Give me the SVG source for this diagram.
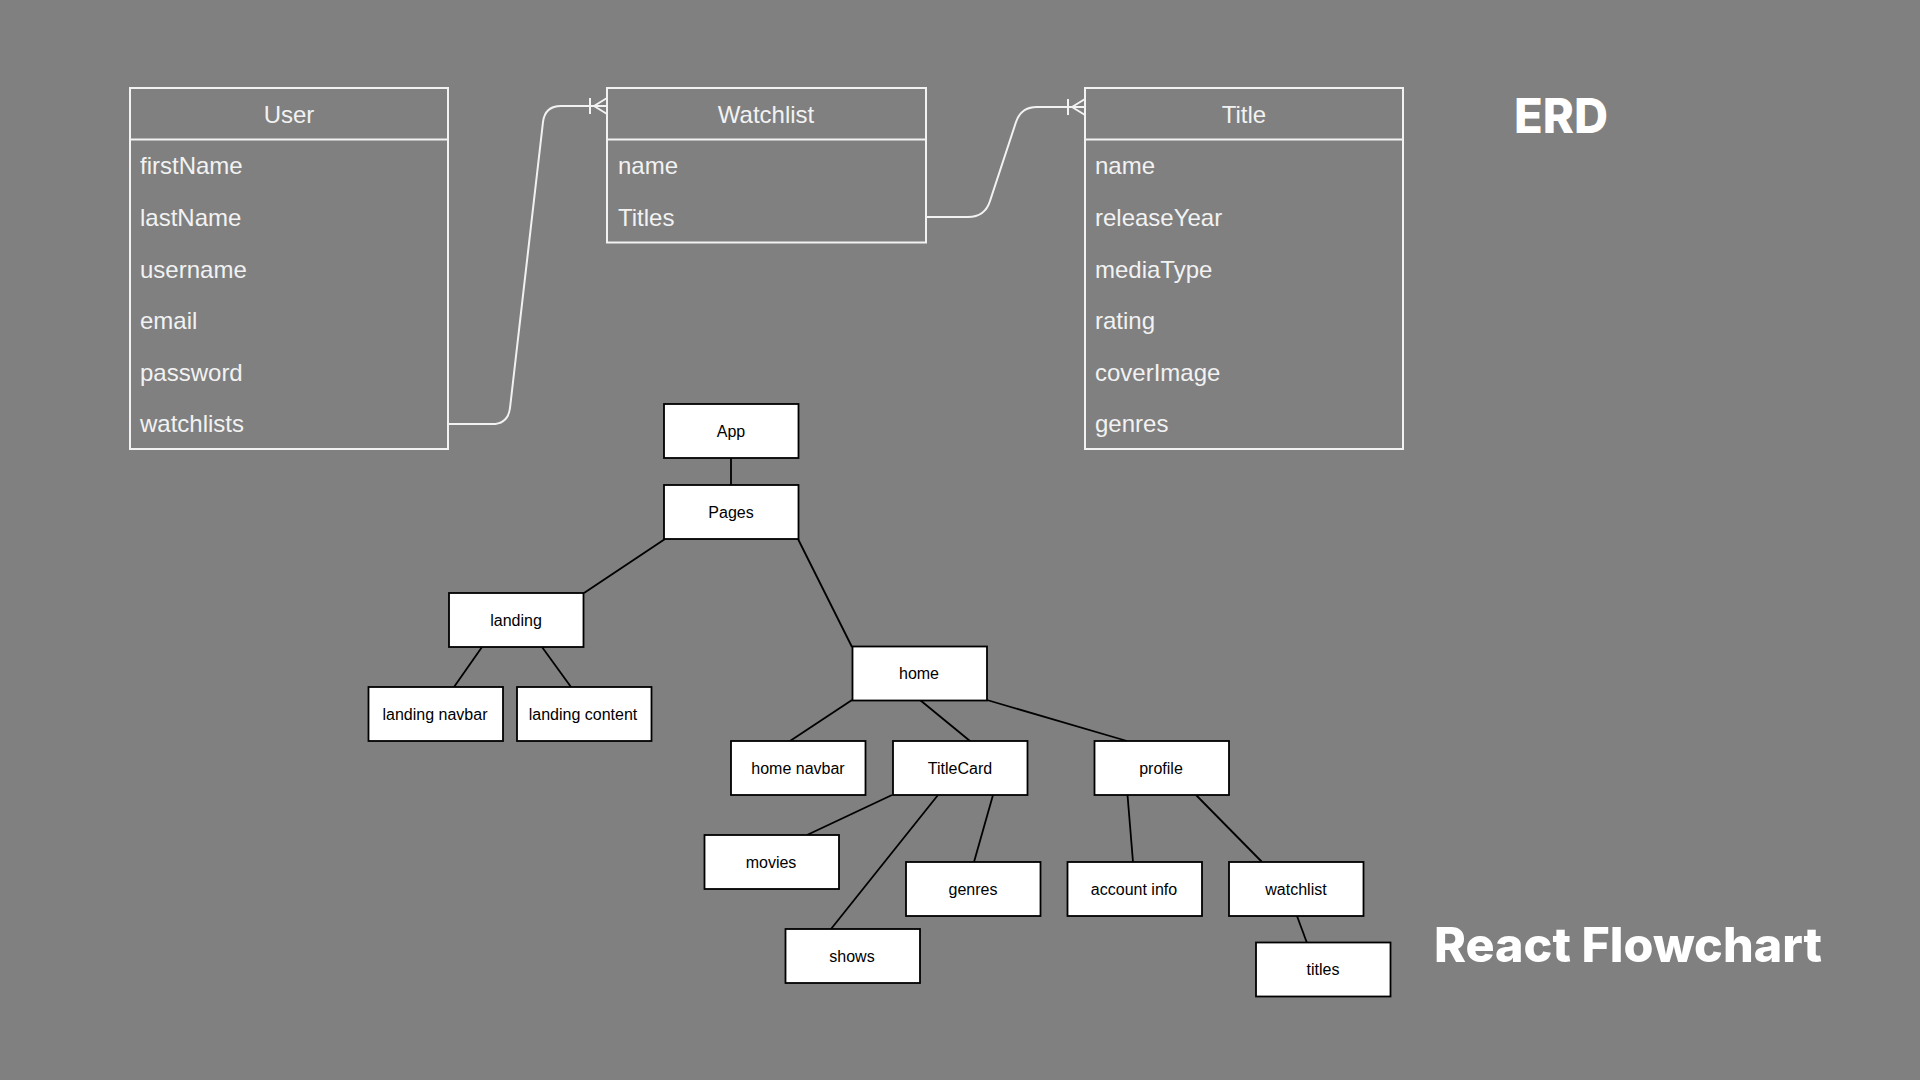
<svg xmlns="http://www.w3.org/2000/svg" width="1920" height="1080" viewBox="0 0 1920 1080">
<style>
.erbox{fill:none;stroke:#f2f2f2;stroke-width:2}
.ert{font-family:"Liberation Sans",Arial,sans-serif;font-size:24px;fill:#f2f2f2;dominant-baseline:central}
.erh{text-anchor:middle}
.erc{fill:none;stroke:#f2f2f2;stroke-width:2}
.fb{fill:#ffffff;stroke:#000000;stroke-width:1.8}
.ft{font-family:"Liberation Sans",Arial,sans-serif;font-size:16px;fill:#000000;text-anchor:middle;dominant-baseline:central}
.fc{fill:none;stroke:#000000;stroke-width:1.8}
.lbl{font-family:Inter,"Liberation Sans",sans-serif;font-weight:800;font-size:48px;fill:#ffffff}
</style>
<rect x="0" y="0" width="1920" height="1080" fill="#808080"/>

<g id="connectors-erd">
<path class="erc" d="M448,424 L492,424 Q508,424 510,408 L543,122 Q545,106 561,106 L607,106"/>
<path class="erc" d="M590,98 L590,114 M594,106 L607,98 M594,106 L607,114"/>
<path class="erc" d="M926,217 L968,217 Q985,217 990,201 L1016,122 Q1021,107 1037,107 L1085,107"/>
<path class="erc" d="M1068,99 L1068,115 M1072,107 L1085,99 M1072,107 L1085,115"/>
</g>

<g id="user">
<rect class="erbox" x="130" y="88" width="318" height="361"/>
<line class="erbox" x1="130" y1="139.5" x2="448" y2="139.5"/>
<text class="ert erh" x="289" y="114">User</text>
<text class="ert" x="140" y="165.5">firstName</text>
<text class="ert" x="140" y="217">lastName</text>
<text class="ert" x="140" y="269">username</text>
<text class="ert" x="140" y="320.5">email</text>
<text class="ert" x="140" y="372">password</text>
<text class="ert" x="140" y="423.5">watchlists</text>
</g>

<g id="watchlist-entity">
<rect class="erbox" x="607" y="88" width="319" height="154.5"/>
<line class="erbox" x1="607" y1="139.5" x2="926" y2="139.5"/>
<text class="ert erh" x="766" y="114">Watchlist</text>
<text class="ert" x="618" y="165.5">name</text>
<text class="ert" x="618" y="217">Titles</text>
</g>

<g id="title-entity">
<rect class="erbox" x="1085" y="88" width="318" height="361"/>
<line class="erbox" x1="1085" y1="139.5" x2="1403" y2="139.5"/>
<text class="ert erh" x="1244" y="114">Title</text>
<text class="ert" x="1095" y="165.5">name</text>
<text class="ert" x="1095" y="217">releaseYear</text>
<text class="ert" x="1095" y="269">mediaType</text>
<text class="ert" x="1095" y="320.5">rating</text>
<text class="ert" x="1095" y="372">coverImage</text>
<text class="ert" x="1095" y="423.5">genres</text>
</g>

<g id="connectors-flow">
<line class="fc" x1="731" y1="458" x2="731" y2="485"/>
<line class="fc" x1="665" y1="539" x2="584" y2="593"/>
<line class="fc" x1="798" y1="539" x2="852" y2="647"/>
<line class="fc" x1="482" y1="647" x2="454" y2="687"/>
<line class="fc" x1="542" y1="647" x2="571" y2="687"/>
<line class="fc" x1="852" y1="700" x2="790" y2="741"/>
<line class="fc" x1="920" y1="700" x2="970" y2="741"/>
<line class="fc" x1="987" y1="700" x2="1127" y2="741"/>
<line class="fc" x1="892" y1="795" x2="807" y2="835"/>
<line class="fc" x1="938" y1="795" x2="831" y2="929"/>
<line class="fc" x1="993" y1="795" x2="974" y2="862"/>
<line class="fc" x1="1127.5" y1="795" x2="1133" y2="862"/>
<line class="fc" x1="1196" y1="795" x2="1262" y2="862"/>
<line class="fc" x1="1297" y1="916" x2="1307" y2="943"/>
</g>

<g id="app"><rect class="fb" x="664" y="404" width="134.5" height="54"/><text class="ft" x="731" y="431">App</text></g>
<g id="pages"><rect class="fb" x="664" y="485" width="134.5" height="54"/><text class="ft" x="731" y="512">Pages</text></g>
<g id="landing"><rect class="fb" x="449" y="593" width="134.5" height="54"/><text class="ft" x="516" y="620">landing</text></g>
<g id="landing-navbar"><rect class="fb" x="368.5" y="687" width="134.5" height="54"/><text class="ft" x="435" y="714">landing navbar</text></g>
<g id="landing-content"><rect class="fb" x="517" y="687" width="134.5" height="54"/><text class="ft" x="583" y="714">landing content</text></g>
<g id="home"><rect class="fb" x="852.5" y="646.5" width="134.5" height="54"/><text class="ft" x="919" y="673.5">home</text></g>
<g id="home-navbar"><rect class="fb" x="731" y="741" width="134.5" height="54"/><text class="ft" x="798" y="768">home navbar</text></g>
<g id="titlecard"><rect class="fb" x="893" y="741" width="134.5" height="54"/><text class="ft" x="960" y="768">TitleCard</text></g>
<g id="profile"><rect class="fb" x="1094.5" y="741" width="134.5" height="54"/><text class="ft" x="1161" y="768">profile</text></g>
<g id="movies"><rect class="fb" x="704.5" y="835" width="134.5" height="54"/><text class="ft" x="771" y="862">movies</text></g>
<g id="genres"><rect class="fb" x="906" y="862" width="134.5" height="54"/><text class="ft" x="973" y="889">genres</text></g>
<g id="shows"><rect class="fb" x="785.5" y="929" width="134.5" height="54"/><text class="ft" x="852" y="956">shows</text></g>
<g id="account-info"><rect class="fb" x="1067.5" y="862" width="134.5" height="54"/><text class="ft" x="1134" y="889">account info</text></g>
<g id="watchlist"><rect class="fb" x="1229" y="862" width="134.5" height="54"/><text class="ft" x="1296" y="889">watchlist</text></g>
<g id="titles"><rect class="fb" x="1256" y="942.5" width="134.5" height="54"/><text class="ft" x="1323" y="969.5">titles</text></g>

<g id="labels">
<text class="lbl" x="1514" y="132.7" textLength="94" lengthAdjust="spacingAndGlyphs">ERD</text>
<text class="lbl" x="1434" y="961.7" textLength="388" lengthAdjust="spacingAndGlyphs">React Flowchart</text>
</g>
</svg>
